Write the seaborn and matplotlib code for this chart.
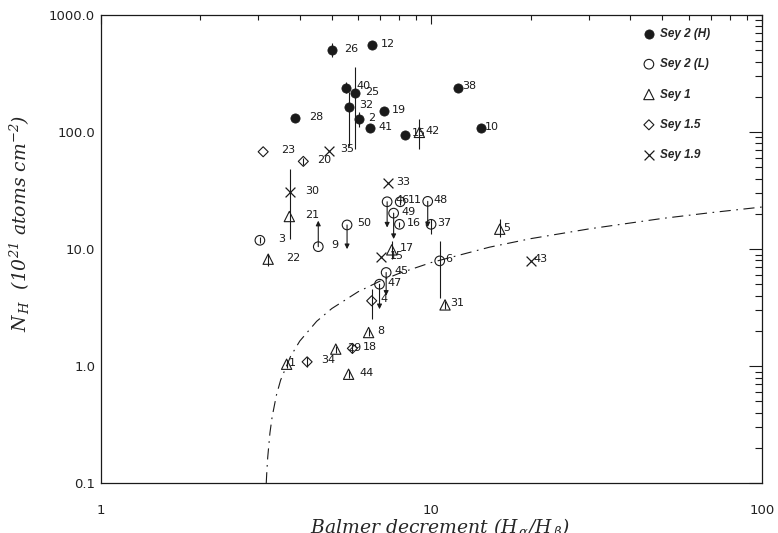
import numpy as np
import pandas as pd
import matplotlib
matplotlib.use("Agg")
import matplotlib.pyplot as plt
import seaborn as sns

# ---- data ----
# Sey 2 (H)
s2h_x = [5.02, 6.61, 5.53, 5.89, 5.62, 6.03, 7.20, 6.51, 3.86, 12.0, 14.1, 8.31]
s2h_y = [502, 551, 239, 214, 164, 129, 151, 108, 131, 239, 108, 95]
s2h_id = ["26", "12", "40", "25", "32", "2", "19", "41", "28", "38", "10", "15"]

# Sey 2 (L)
s2l_x = [3.03, 4.55, 5.56, 7.35, 8.05, 7.69, 8.01, 9.75, 9.98, 10.6, 7.30, 6.97]
s2l_y = [11.9, 10.5, 16.1, 25.4, 25.4, 20.3, 16.3, 25.6, 16.3, 7.94, 6.32, 5.02]
s2l_id = ["3", "9", "50", "46", "11", "49", "16", "48", "37", "6", "45", "47"]

# Sey 1
s1_x = [3.72, 3.21, 16.1, 7.59, 11.0, 6.46, 5.14, 3.65, 5.62, 9.2]
s1_y = [19.0, 8.21, 14.8, 9.86, 3.34, 1.94, 1.40, 1.04, 0.854, 99.4]
s1_id = ["21", "22", "5", "17", "31", "8", "29", "1", "44", "42"]

# Sey 1.5
s15_x = [3.10, 4.10, 6.6, 4.21, 5.77]
s15_y = [67.9, 56.2, 3.62, 1.09, 1.42]
s15_id = ["23", "20", "4", "34", "18"]

# Sey 1.9
s19_x = [4.89, 3.74, 7.39, 7.06, 20.0]
s19_y = [69.2, 30.5, 36.6, 8.49, 7.94]
s19_id = ["35", "30", "33", "15", "43"]

# error bars
bar_x = [5.02, 5.53, 5.89, 5.62, 6.03, 9.2, 3.74, 3.21, 9.98, 10.6, 16.1, 7.59,
         6.6, 4.10, 4.21, 5.77, 5.14, 3.65, 5.62, 6.46, 11.0, 3.03, 8.05, 8.01]
bar_lo = [435, 215, 71, 76, 110, 71, 12.2, 7.2, 13.4, 3.86, 12.6, 8.2,
          2.52, 52, 0.98, 1.3, 1.3, 0.97, 0.8, 1.8, 3.1, 11.2, 24, 15.4]
bar_hi = [573, 266, 359, 220, 147, 129, 48.4, 9.05, 18.0, 11.8, 18.0, 11.8,
          4.55, 60, 1.2, 1.55, 1.5, 1.12, 0.92, 2.08, 3.6, 12.6, 27, 17.2]

# upper / lower limits (arrows)
lim_x = [4.55, 5.56, 7.35, 7.69, 9.75, 7.30, 6.97]
lim_from = [10.5, 16.1, 25.4, 20.3, 25.6, 6.32, 5.02]
lim_to = [17.5, 10.0, 15.3, 12.2, 15.4, 4.0, 3.07]

# dust-to-gas curve
curve_x = [3.167, 3.18, 3.2, 3.25, 3.3, 3.4, 3.5, 3.75, 4, 4.5, 5, 6, 7, 8, 10,
           15, 20, 30, 50, 70, 100]
curve_y = [0.1, 0.126, 0.167, 0.27, 0.37, 0.567, 0.76, 1.21, 1.64, 2.42, 3.11,
           4.32, 5.34, 6.22, 7.69, 10.4, 12.3, 14.9, 18.3, 20.5, 22.9]

classes = ["Sey 2 (H)", "Sey 2 (L)", "Sey 1", "Sey 1.5", "Sey 1.9"]
df = pd.concat([
    pd.DataFrame({"x": s2h_x, "y": s2h_y, "id": s2h_id, "cls": classes[0]}),
    pd.DataFrame({"x": s2l_x, "y": s2l_y, "id": s2l_id, "cls": classes[1]}),
    pd.DataFrame({"x": s1_x, "y": s1_y, "id": s1_id, "cls": classes[2]}),
    pd.DataFrame({"x": s15_x, "y": s15_y, "id": s15_id, "cls": classes[3]}),
    pd.DataFrame({"x": s19_x, "y": s19_y, "id": s19_id, "cls": classes[4]}),
], ignore_index=True)

sns.set_theme(style="white")
plt.rcParams["font.family"] = ["DejaVu Sans"]
plt.rcParams["mathtext.fontset"] = "custom"
plt.rcParams["mathtext.rm"] = "DejaVu Serif:italic"
plt.rcParams["mathtext.it"] = "DejaVu Serif:italic"

W, H = 778, 533
fig = plt.figure(figsize=(W / 100, H / 100), dpi=100)
L, R, T, B = 100.7, 762, 15, 483.3
ax = fig.add_axes([L / W, 1 - B / H, (R - L) / W, (B - T) / H])

styles = {
    "Sey 2 (H)": dict(marker="o", s=44, facecolor="k", edgecolor="k"),
    "Sey 2 (L)": dict(marker="o", s=48, facecolor="none", edgecolor="k", linewidth=0.8),
    "Sey 1": dict(marker="^", s=55, facecolor="none", edgecolor="k", linewidth=0.8),
    "Sey 1.5": dict(marker="D", s=26, facecolor="none", edgecolor="k", linewidth=0.8),
    "Sey 1.9": dict(marker="x", s=50, color="k", linewidth=0.9),
}
for c in classes:
    sub = df[df.cls == c]
    sns.scatterplot(data=sub, x="x", y="y", ax=ax, label=c, zorder=3, **styles[c])

ax.vlines(bar_x, bar_lo, bar_hi, color="k", lw=0.8, zorder=2)
for xx, y0, y1 in zip(lim_x, lim_from, lim_to):
    ax.annotate("", xy=(xx, y1), xytext=(xx, y0),
                arrowprops=dict(arrowstyle="-|>", color="k", lw=0.8,
                                mutation_scale=7, shrinkA=0, shrinkB=0))

ax.plot(curve_x, curve_y, color="k", lw=0.8, linestyle=(0, (10, 5, 1.5, 5)))

# point ids
for _, r in df.iterrows():
    dx = 0.42
    if r["id"] == "1":
        dx = 0.05
    ax.text(r.x + dx, r.y * 1.03, r["id"], fontsize=8, ha="left", va="center",
            color="k", zorder=4)

ax.set_xscale("log")
ax.set_yscale("log")
ax.set_xlim(1, 100)
ax.set_ylim(0.1, 1000)
ax.set_xticks([1, 10, 100], ["1", "10", "100"])
ax.set_yticks([0.1, 1, 10, 100, 1000], ["0.1", "1.0", "10.0", "100.0", "1000.0"])
ax.set_xlabel("")
ax.set_ylabel("")
for sp in ax.spines.values():
    sp.set_color("k")
    sp.set_linewidth(0.9)
ax.tick_params(which="both", direction="in", top=True, right=True,
               color="k", width=0.8, labelsize=9.5, labelcolor="#222222")
ax.tick_params(axis="x", which="major", length=6.8, pad=15)
ax.tick_params(axis="x", which="minor", length=3.4)
ax.tick_params(axis="y", which="major", length=9.5, pad=4)
ax.tick_params(axis="y", which="minor", length=4.8)

fig.text(440 / W, 1 - 517 / H, r"Balmer decrement ($H_{\,\alpha}$/H$_{\,\beta}$)",
         fontsize=13.5, family="DejaVu Serif", style="italic",
         ha="center", va="top")
fig.text(20 / W, 1 - 223 / H, r"$N_{\,H}$  (10$^{21}$ atoms cm$^{-2}$)",
         fontsize=13.5, family="DejaVu Serif", style="italic",
         rotation=90, ha="center", va="center")

leg = ax.legend(loc="upper left", bbox_to_anchor=((643 - L) / (R - L), (B - 28) / (B - T)),
                frameon=False, borderpad=0, borderaxespad=0, handlelength=1.0,
                handletextpad=0.45, labelspacing=1.55,
                prop=dict(family="Liberation Sans", weight="bold", style="italic", size=8.5))

fig.savefig("out.png", dpi=100)
